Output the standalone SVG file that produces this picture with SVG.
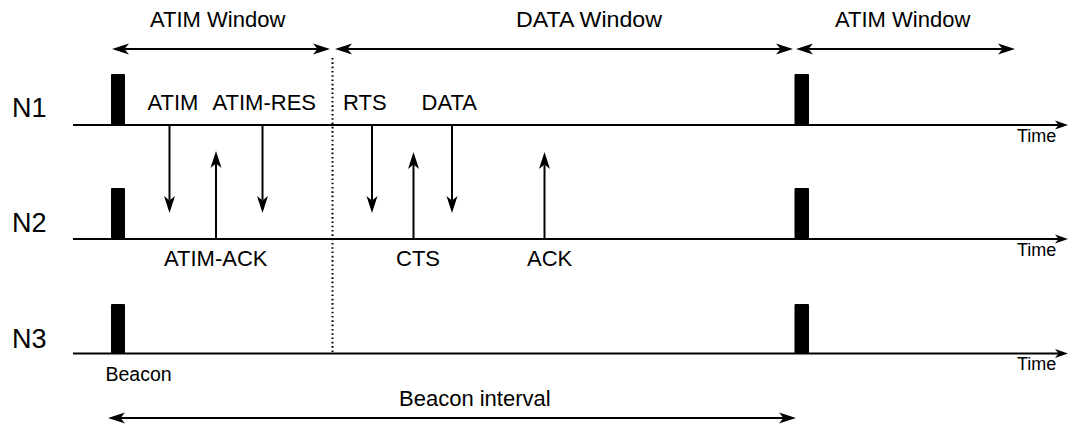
<svg xmlns="http://www.w3.org/2000/svg" width="1073" height="428" viewBox="0 0 1073 428">
  <style>
    text { font-family: "Liberation Sans", Arial, sans-serif; fill: #000; }
    .win { font-size: 22px; }
    .node { font-size: 27px; }
    .msg { font-size: 22px; }
    .time { font-size: 18px; }
    .small { font-size: 19.5px; }
    .span { stroke: #000; stroke-width: 2; fill: none; marker-start: url(#head); marker-end: url(#head); }
    .msgarrow { stroke: #000; stroke-width: 2; fill: none; marker-end: url(#head); }
    .axis { stroke: #000; stroke-width: 2; fill: none; marker-end: url(#axisHead); }
    .beacon { fill: #000; }
    .dotted { stroke: #000; stroke-width: 2; stroke-dasharray: 1.6 2.7; fill: none; }
  </style>
  <defs>
    <!-- barbed arrowhead, line ends at the notch -->
    <marker id="head" markerUnits="userSpaceOnUse" markerWidth="17" markerHeight="12" refX="4.5" refY="6" orient="auto-start-reverse" overflow="visible">
      <path d="M0,0.5 L17,6 L0,11.5 L4.5,6 Z" fill="#000"/>
    </marker>
    <marker id="axisHead" markerUnits="userSpaceOnUse" markerWidth="13" markerHeight="9" refX="3.5" refY="4.5" orient="auto" overflow="visible">
      <path d="M0,0 L13,4.5 L0,9 L3.5,4.5 Z" fill="#000"/>
    </marker>
  </defs>

  <!-- window labels -->
  <g id="window-labels">
    <text class="win" x="150" y="27">ATIM Window</text>
    <text class="win" x="516" y="27" textLength="146" lengthAdjust="spacingAndGlyphs">DATA Window</text>
    <text class="win" x="835" y="27">ATIM Window</text>
  </g>

  <!-- node N1 -->
  <g id="N1">
    <text class="node" x="12" y="117">N1</text>
    <rect class="beacon" x="111" y="74" width="14" height="51" rx="1"/>
    <rect class="beacon" x="794.5" y="74" width="14.5" height="51" rx="1"/>
    <text class="time" x="1017" y="142">Time</text>
  </g>

  <!-- node N2 -->
  <g id="N2">
    <text class="node" x="12" y="232">N2</text>
    <rect class="beacon" x="111" y="188" width="14" height="51" rx="1"/>
    <rect class="beacon" x="794.5" y="188" width="14.5" height="51" rx="1"/>
    <text class="time" x="1017" y="256">Time</text>
  </g>

  <!-- node N3 -->
  <g id="N3">
    <text class="node" x="12" y="348">N3</text>
    <rect class="beacon" x="111" y="304" width="14" height="50" rx="1"/>
    <rect class="beacon" x="794.5" y="304" width="14.5" height="50" rx="1"/>
    <text class="time" x="1017" y="370">Time</text>
    <text class="small" x="105.5" y="381">Beacon</text>
  </g>

  <!-- frame labels -->
  <g id="message-labels">
    <text class="msg" x="147.5" y="110">ATIM</text>
    <text class="msg" x="212.5" y="110">ATIM-RES</text>
    <text class="msg" x="343" y="110">RTS</text>
    <text class="msg" x="421.5" y="110">DATA</text>
    <text class="msg" x="164" y="266">ATIM-ACK</text>
    <text class="msg" x="396" y="266">CTS</text>
    <text class="msg" x="527" y="266">ACK</text>
    <text class="msg" x="399" y="406">Beacon interval</text>
  </g>

  <!-- connectors -->
  <g id="connectors">
    <!-- time axes -->
    <line class="axis" x1="73" y1="125" x2="1058.5" y2="125"/>
    <line class="axis" x1="73" y1="239" x2="1058.5" y2="239"/>
    <line class="axis" x1="73" y1="353.5" x2="1058.5" y2="353.5"/>

    <!-- window boundary -->
    <line class="dotted" x1="332.5" y1="58" x2="332.5" y2="353"/>

    <!-- window spans -->
    <line class="span" x1="124.5" y1="49" x2="317.5" y2="49"/>
    <line class="span" x1="347.5" y1="49" x2="780.5" y2="49"/>
    <line class="span" x1="808.5" y1="49" x2="1002.5" y2="49"/>
    <line class="span" x1="120.5" y1="418" x2="783.5" y2="418"/>

    <!-- frame exchanges -->
    <line class="msgarrow" x1="169.5" y1="125" x2="169.5" y2="200.5"/>
    <line class="msgarrow" x1="216" y1="239" x2="216" y2="163.5"/>
    <line class="msgarrow" x1="262.5" y1="125" x2="262.5" y2="200.5"/>
    <line class="msgarrow" x1="372" y1="125" x2="372" y2="200.5"/>
    <line class="msgarrow" x1="413.5" y1="239" x2="413.5" y2="164.5"/>
    <line class="msgarrow" x1="452" y1="125" x2="452" y2="200.5"/>
    <line class="msgarrow" x1="544.5" y1="239" x2="544.5" y2="164.5"/>
  </g>
</svg>
